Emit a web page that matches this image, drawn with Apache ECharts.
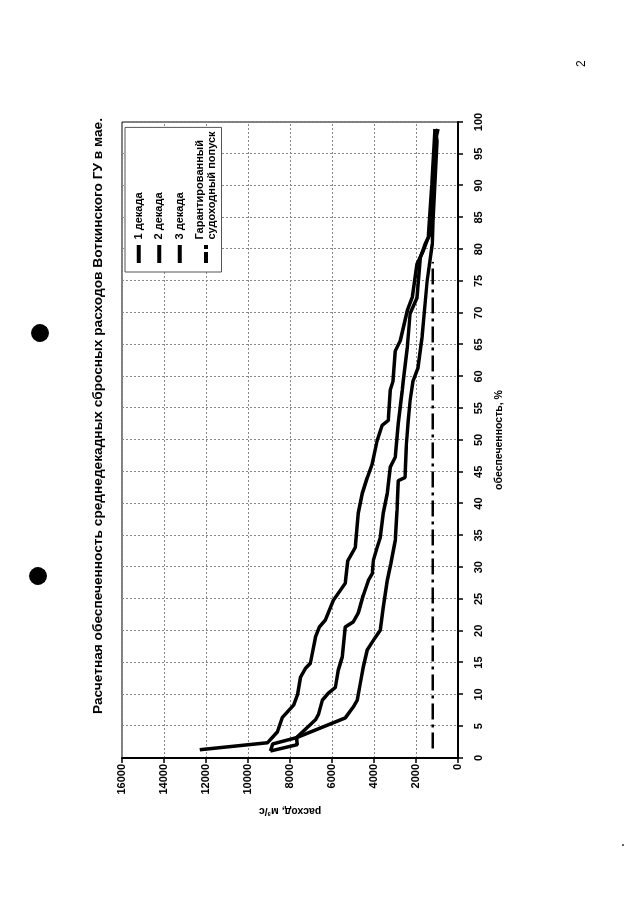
<!DOCTYPE html>
<html><head><meta charset="utf-8">
<script src="https://cdn.jsdelivr.net/npm/echarts@6/dist/echarts.min.js"></script>
<style>
html,body{margin:0;padding:0;width:640px;height:905px;overflow:hidden;background:#fff;}
#chart{position:absolute;left:0;top:905px;width:905px;height:640px;transform-origin:0 0;transform:rotate(-90deg);}
</style></head><body><div id="chart"></div>
<script>
const titleText = 'Расчетная обеспеченность среднедекадных сбросных расходов Воткинского ГУ в мае.';
const xName = 'обеспеченность, %';
const yName = 'расход, м³/с';
const seriesNames = ['1 декада', '2 декада', '3 декада', 'Гарантированный\nсудоходный попуск'];

const pct1 = [1.3, 2.4, 4.1, 6.4, 8.3, 9.9, 12.7, 14.1, 14.9, 19.0, 20.6, 21.7, 24.8, 27.5, 31.0, 33.1, 38.5, 41.6, 44.1, 46.3, 49.9, 52.3, 53.1, 57.8, 59.3, 64.0, 65.6, 70.3, 72.4, 77.7, 79.7, 81.8, 90.0, 98.9];
const flow1 = [12300, 9070, 8600, 8360, 7830, 7645, 7500, 7265, 7030, 6790, 6600, 6315, 5935, 5365, 5250, 4890, 4750, 4560, 4320, 4080, 3850, 3610, 3320, 3230, 3090, 2990, 2750, 2420, 2180, 1950, 1660, 1420, 1250, 1100];

const pct2 = [1.1, 2.1, 3.2, 6.0, 6.8, 9.1, 10.2, 11.1, 13.8, 15.9, 20.6, 21.4, 22.8, 25.6, 27.9, 29.0, 31.1, 33.1, 34.7, 38.5, 41.6, 45.7, 47.3, 52.6, 57.8, 59.3, 64.5, 69.9, 72.4, 78.6, 80.8, 82.4, 90.0, 97.5, 98.9];
const flow2 = [8930, 7650, 7690, 6790, 6650, 6460, 6170, 5840, 5700, 5510, 5370, 4990, 4750, 4510, 4270, 4080, 4030, 3850, 3700, 3560, 3370, 3230, 2990, 2850, 2660, 2610, 2420, 2280, 1950, 1800, 1570, 1330, 1150, 1050, 950];

const pct3 = [1.1, 2.2, 3.2, 6.3, 8.0, 9.1, 11.8, 14.3, 17.0, 18.5, 20.1, 23.7, 27.9, 30.5, 34.2, 38.9, 43.6, 44.1, 48.8, 53.1, 56.2, 59.3, 61.4, 66.1, 75.0, 80.8, 84.5, 97.0, 98.9];
const flow3 = [8930, 8830, 7690, 5370, 4990, 4800, 4650, 4510, 4320, 4030, 3700, 3560, 3370, 3200, 2990, 2900, 2850, 2520, 2470, 2370, 2280, 2140, 1900, 1710, 1470, 1230, 1190, 1000, 1080];

const pctG = [1.5, 78];
const flowG = [1200, 1200];

const pctTicks = {min: 0, max: 100, interval: 5};
const flowTicks = {min: 0, max: 16000, interval: 2000};

function pairs(p, v) { return p.map((x, i) => [x, v[i]]); }
const FONT = 'Liberation Sans';

const chart = echarts.init(document.getElementById('chart'), null, {renderer: 'canvas'});
const curveStyle = {color: '#000', width: 3.5};
const lineIcon = 'path://M0,0H18V4H0Z';
const dashDotIcon = 'path://M0,0H11V4H0Z M14,0H18V4H14Z';
chart.setOption({
  animation: false,
  backgroundColor: '#fff',
  title: {
    text: titleText, left: 484, top: 86, textAlign: 'center',
    textStyle: {fontFamily: FONT, fontWeight: 'bold', fontSize: 13.7, color: '#000'}
  },
  legend: {
    orient: 'vertical', left: 633, top: 125,
    padding: [8, 4, 4, 9], itemGap: 9, itemWidth: 19, itemHeight: 4,
    borderColor: '#555', borderWidth: 1, backgroundColor: '#fff',
    data: [
      {name: seriesNames[0], icon: lineIcon},
      {name: seriesNames[1], icon: lineIcon},
      {name: seriesNames[2], icon: lineIcon},
      {name: seriesNames[3], icon: dashDotIcon}
    ],
    itemStyle: {color: '#000', borderWidth: 0},
    lineStyle: {width: 0},
    textStyle: {fontFamily: FONT, fontWeight: 'bold', fontSize: 11, color: '#000', lineHeight: 11.5}
  },
  grid: {left: 147, top: 122, width: 636, height: 336, show: true, borderColor: '#000', borderWidth: 1, backgroundColor: 'transparent'},
  xAxis: {
    type: 'value', min: pctTicks.min, max: pctTicks.max, interval: pctTicks.interval,
    name: xName, nameLocation: 'middle', nameGap: 36,
    nameTextStyle: {fontFamily: FONT, fontWeight: 'bold', fontSize: 10.5, color: '#000'},
    axisLine: {show: true, onZero: false, lineStyle: {color: '#000', width: 2}},
    axisTick: {show: true, inside: false, length: 5, lineStyle: {color: '#000', width: 1.5}},
    axisLabel: {margin: 15, fontFamily: FONT, fontWeight: 'bold', fontSize: 11, color: '#000'},
    splitLine: {show: true, lineStyle: {color: '#888', width: 1, type: [2, 2]}}
  },
  yAxis: {
    type: 'value', min: flowTicks.min, max: flowTicks.max, interval: flowTicks.interval,
    name: yName, nameLocation: 'middle', nameGap: 26, nameRotate: 90,
    nameTextStyle: {fontFamily: FONT, fontWeight: 'bold', fontSize: 10.5, color: '#000'},
    axisLine: {show: true, onZero: false, lineStyle: {color: '#000', width: 2}},
    axisTick: {show: true, inside: false, length: 5, lineStyle: {color: '#000', width: 1.5}},
    axisLabel: {margin: 6, fontFamily: FONT, fontWeight: 'bold', fontSize: 11, color: '#000', formatter: v => String(v)},
    splitLine: {show: true, lineStyle: {color: '#888', width: 1, type: [2, 2]}}
  },
  series: [
    {name: seriesNames[0], type: 'line', symbol: 'none', data: pairs(pct1, flow1), lineStyle: curveStyle, itemStyle: {color: '#000'}},
    {name: seriesNames[1], type: 'line', symbol: 'none', data: pairs(pct2, flow2), lineStyle: curveStyle, itemStyle: {color: '#000'}},
    {name: seriesNames[2], type: 'line', symbol: 'none', data: pairs(pct3, flow3), lineStyle: curveStyle, itemStyle: {color: '#000'}},
    {name: seriesNames[3], type: 'line', symbol: 'none', data: pairs(pctG, flowG), lineStyle: {color: '#000', width: 2.5, type: [16, 5, 3, 5]}, itemStyle: {color: '#000'}}
  ],
  graphic: [
    {type: 'text', left: 838, top: 576, style: {text: '2', fontFamily: FONT, fontSize: 12, fill: '#000'}},
    {type: 'circle', shape: {cx: 572, cy: 40, r: 9}, style: {fill: '#000'}},
    {type: 'circle', shape: {cx: 329, cy: 38, r: 9}, style: {fill: '#000'}},
    {type: 'circle', shape: {cx: 60, cy: 623, r: 1}, style: {fill: '#333'}}
  ]
});
</script></body></html>
